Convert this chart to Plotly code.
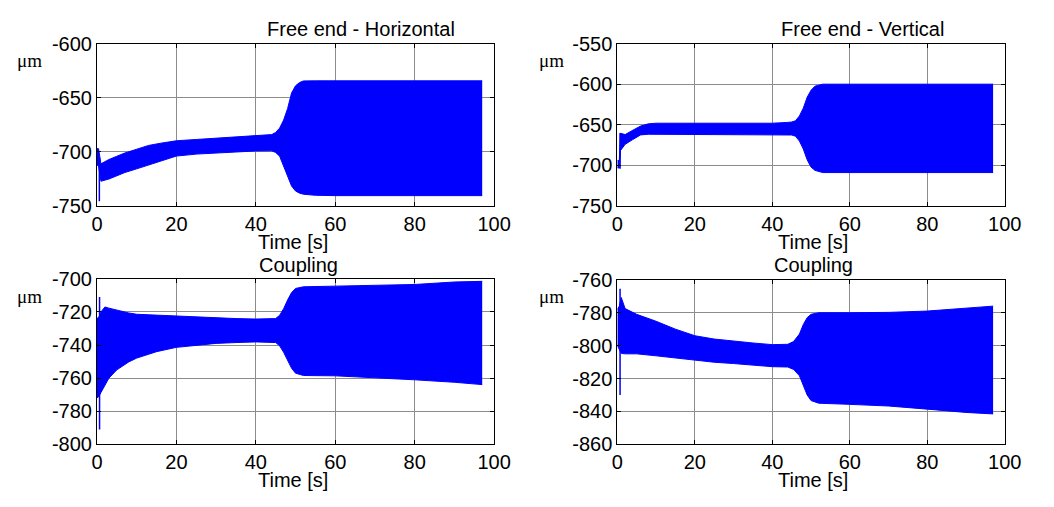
import plotly.graph_objects as go

# ---------------- data (envelopes) ----------------
# Panel A: Free end - Horizontal
tA = [0, 0.4, 1, 2, 3, 5, 7, 10, 13, 16, 20, 25, 30, 35, 40, 44, 45, 46, 47, 48, 49, 50, 51, 52, 55, 60, 70, 80, 90, 97]
upA = [-697, -697, -711, -709, -707, -704, -701, -697.5, -694, -692, -689.7, -688.5, -687.4, -686.5, -685.3, -684, -682,
       -678, -670.6, -660, -645.6, -639, -636, -634.5, -634.4, -634.4, -634.4, -634.4, -634.4, -634.4]
loA = [-712, -713, -727, -726, -725, -722, -719, -715.6, -712, -709, -703.8, -702, -701, -700, -699.1, -699, -700.5,
       -704, -713, -722, -731.5, -736, -738, -739, -740, -740.3, -740.3, -740.3, -740.3, -740.3]
spikeA_t = [0.6, 0.6]
spikeA_y = [-705, -745.6]

# Panel B: Free end - Vertical
tB = [0, 0.5, 0.8, 2, 4, 6, 8, 10, 20, 30, 40, 44, 45, 46, 47, 48, 49, 50, 51, 53, 60, 70, 80, 90, 97]
upB = [-694, -694, -660.4, -662, -656.6, -651.5, -648.8, -648, -648, -648, -648, -647, -646.5, -645, -639, -629.5,
       -616, -607.5, -602.5, -600, -600, -600, -600, -600, -600]
loB = [-703, -703, -681.7, -674, -668, -662.4, -661.6, -661.6, -661.6, -661.6, -661.6, -661.6, -662.5, -664, -670,
       -679.7, -693, -702, -706, -708.7, -708.7, -708.7, -708.7, -708.7, -708.7]
spikeB_t = [0.7, 0.7]
spikeB_y = [-660, -704]

# Panel C: Coupling (left)
tC = [0, 0.5, 1, 2, 3, 5, 8, 10, 15, 20, 25, 30, 35, 40, 45, 46, 47, 48, 49, 50, 52, 60, 70, 80, 90, 97]
upC = [-724, -723, -720, -717, -717.7, -719, -720.6, -721.4, -722, -722.5, -723, -723.5, -724, -724.3, -724, -722,
       -718, -712.8, -708.3, -705.8, -704.8, -704.4, -704, -703.4, -701.9, -701.5]
loC = [-772, -771, -768.7, -764, -760, -755, -750.2, -747.9, -744, -741.4, -740, -739, -738.5, -738.1, -738.5, -740.5,
       -744.4, -749.2, -754, -757, -758.4, -758.6, -759.6, -761, -762.5, -763.9]
spikeC_t = [0.65, 0.65]
spikeC_y = [-711, -791]

# Panel D: Coupling (right)
tD = [0, 0.5, 1, 2, 5, 10, 15, 20, 25, 30, 35, 40, 44, 45.5, 47, 48, 49, 50, 52, 60, 70, 80, 90, 97]
upD = [-778, -776, -770.7, -777.5, -781, -785.2, -790, -794, -796, -797.3, -798.4, -799.4, -799.2, -797.5, -793,
       -787.2, -783, -781, -780, -780, -779.8, -779, -777.5, -776]
loD = [-800, -802, -804.7, -805, -805, -806.2, -807.6, -809, -810.1, -810.9, -812, -812.8, -813, -814.5, -818.3,
       -824, -830, -833.4, -835, -835.7, -836.7, -838.6, -840.6, -841.5]
spikeD_t = [0.7, 0.7]
spikeD_y = [-765.4, -830]

titles = ["Free end - Horizontal", "Free end - Vertical", "Coupling", "Coupling"]
y_ranges = [[-750, -600], [-750, -550], [-800, -700], [-860, -760]]
y_tickvals = [[-750, -700, -650, -600],
              [-750, -700, -650, -600, -550],
              [-800, -780, -760, -740, -720, -700],
              [-860, -840, -820, -800, -780, -760]]
y_ticktext = [["-750", "-700", "-650", "-600"],
              ["-750", "-700", "-650", "-600", "-550"],
              ["-800", "-780", "-760", "-740", "-720", "-700"],
              ["-860", "-840", "-820", "-800", "-780", "-760"]]
x_ticks = [0, 20, 40, 60, 80, 100]
x_ticktext = ["0", "20", "40", "60", "80", "100"]

# ---------------- layout geometry ----------------
W, H = 1054, 507
BLUE = "#0000ff"
panels = [
    dict(t=tA, up=upA, lo=loA, st=spikeA_t, sy=spikeA_y, px=(93, 499), py=(34, 204)),
    dict(t=tB, up=upB, lo=loB, st=spikeB_t, sy=spikeB_y, px=(625, 1021), py=(34, 204)),
    dict(t=tC, up=upC, lo=loC, st=spikeC_t, sy=spikeC_y, px=(93, 499), py=(280, 453)),
    dict(t=tD, up=upD, lo=loD, st=spikeD_t, sy=spikeD_y, px=(625, 1021), py=(281, 453)),
]
title_pos = [(363, 19), (876, 19), (299, 266), (826, 266)]
mu_pos = [(24, 52), (558, 52), (24, 298), (558, 298)]
time_pos = [(293, 242), (825, 242), (293, 490), (825, 490)]

fig = go.Figure()
font_ax = dict(family="Liberation Sans, Arial, sans-serif", size=20, color="black")

for i, p in enumerate(panels):
    n = "" if i == 0 else str(i + 1)
    xa, ya = "x" + n, "y" + n
    fig.add_trace(go.Scatter(x=p["t"], y=p["up"], mode="lines", line=dict(color=BLUE, width=1),
                             xaxis=xa, yaxis=ya, showlegend=False, hoverinfo="skip"))
    fig.add_trace(go.Scatter(x=p["t"], y=p["lo"], mode="lines", line=dict(color=BLUE, width=1),
                             fill="tonexty", fillcolor=BLUE,
                             xaxis=xa, yaxis=ya, showlegend=False, hoverinfo="skip"))
    fig.add_trace(go.Scatter(x=p["st"], y=p["sy"], mode="lines", line=dict(color=BLUE, width=1.5),
                             xaxis=xa, yaxis=ya, showlegend=False, hoverinfo="skip"))

    axis_common = dict(showline=True, linecolor="black", linewidth=1, mirror="ticks",
                       ticks="inside", ticklen=4, tickcolor="black",
                       showgrid=True, gridcolor="#8c8c8c", gridwidth=1,
                       zeroline=False, tickfont=font_ax)
    xdom = [p["px"][0] / W, p["px"][1] / W]
    ydom = [1 - p["py"][1] / H, 1 - p["py"][0] / H]
    fig.update_layout(**{
        ("xaxis" + n): dict(domain=xdom, range=[0, 100], tickvals=x_ticks, ticktext=x_ticktext,
                            anchor=ya, **axis_common),
        ("yaxis" + n): dict(domain=ydom, range=y_ranges[i], tickvals=y_tickvals[i], ticktext=y_ticktext[i],
                            anchor=xa, **axis_common),
    })

    fig.add_annotation(text=titles[i], x=title_pos[i][0] / W, y=1 - title_pos[i][1] / H, xref="paper", yref="paper",
                       showarrow=False, xanchor="center", yanchor="middle", font=font_ax)
    fig.add_annotation(text="\u03bcm", x=mu_pos[i][0] / W, y=1 - mu_pos[i][1] / H, xref="paper", yref="paper",
                       showarrow=False, xanchor="center", yanchor="middle",
                       font=dict(family="Liberation Serif, Times New Roman, serif", size=19, color="black"))
    fig.add_annotation(text="Time [s]", x=time_pos[i][0] / W, y=1 - time_pos[i][1] / H, xref="paper", yref="paper",
                       showarrow=False, xanchor="center", yanchor="middle", font=font_ax)

fig.update_layout(width=W, height=H, margin=dict(l=0, r=0, t=0, b=0),
                  paper_bgcolor="white", plot_bgcolor="white")

fig.write_html("out.html")
